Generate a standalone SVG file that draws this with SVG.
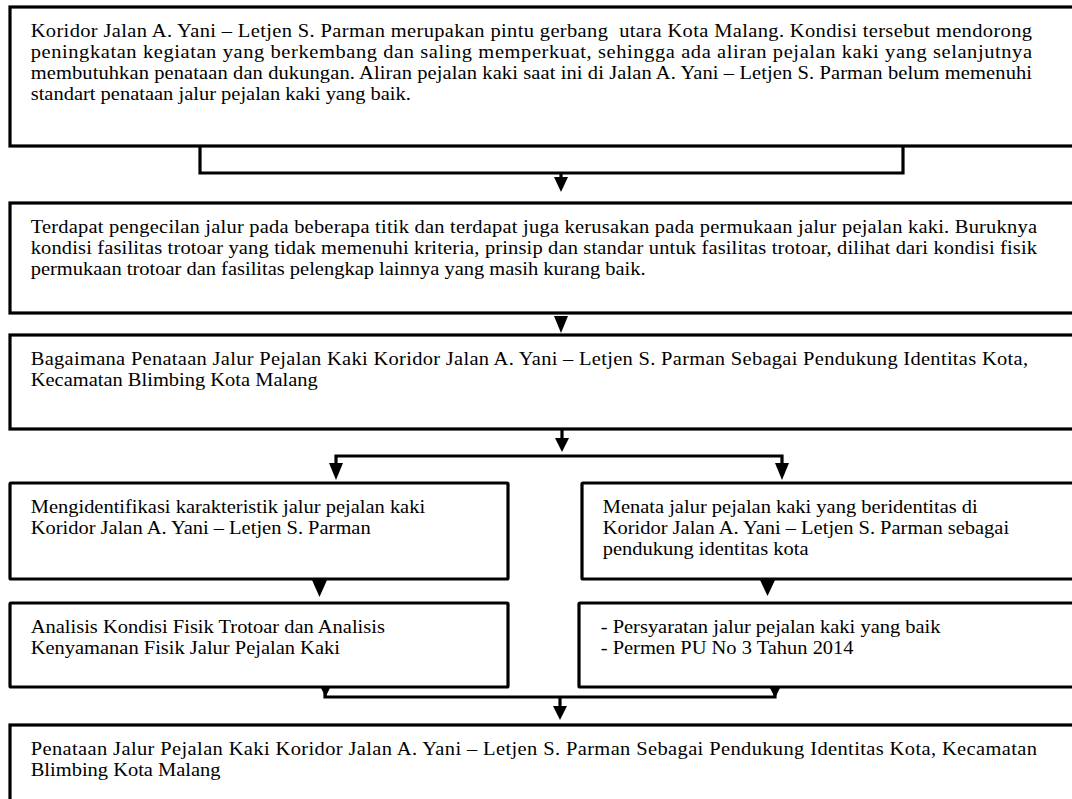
<svg xmlns="http://www.w3.org/2000/svg" width="1072" height="799" viewBox="0 0 1072 799">
<style>
.box{fill:#fff;stroke:#000;stroke-width:3.2}
.t{font-family:"Liberation Serif","Times New Roman",serif;font-size:18px;fill:#000;white-space:pre}
.ln{fill:none;stroke:#000;stroke-width:3.2}
.ah{fill:#000}
</style>
<defs>
<marker id="arr" markerUnits="userSpaceOnUse" markerWidth="16" markerHeight="16" refX="7" refY="14" orient="auto-start-reverse" viewBox="0 0 14 14">
<path d="M0,0 L14,0 L7,14 Z" fill="#000" transform="rotate(0)"/>
</marker>
</defs>
<rect width="1072" height="799" fill="#fff"/>

<g id="connectors">
<path class="ln" d="M200,146 V173 H903 V146"/>
<path class="ln" d="M561,173 V178"/>
<polygon class="ah" points="554,177 568,177 561,192"/>
<polygon class="ah" points="554,316 568,316 561,333"/>
<path class="ln" d="M562,430 V438"/>
<polygon class="ah" points="555,438 569,438 562,452"/>
<path class="ln" d="M336,463 V456 H782 V463"/>
<polygon class="ah" points="329,463 343,463 336,480"/>
<polygon class="ah" points="775,463 789,463 782,480"/>
<polygon class="ah" points="312,580 327,580 319.5,597"/>
<polygon class="ah" points="760,580 775,580 767.5,596"/>
<path class="ln" d="M325,687 V697 H775 V687"/>
<polygon class="ah" points="320,686 331,686 325.5,697"/>
<polygon class="ah" points="769,686 781,686 775,698"/>
<path class="ln" d="M560,697 V708"/>
<polygon class="ah" points="553,706 567,706 560,720"/>
</g>

<g id="node1">
<rect class="box" x="10" y="7" width="1080" height="139"/>
<text class="t" transform="translate(30.7,37) scale(1.138,1)" textLength="879.9" lengthAdjust="spacing">Koridor Jalan A. Yani – Letjen S. Parman merupakan pintu gerbang  utara Kota Malang. Kondisi tersebut mendorong</text>
<text class="t" transform="translate(30.7,58) scale(1.138,1)" textLength="879.9" lengthAdjust="spacing">peningkatan kegiatan yang berkembang dan saling memperkuat, sehingga ada aliran pejalan kaki yang selanjutnya</text>
<text class="t" transform="translate(30.7,79) scale(1.138,1)" textLength="879.9" lengthAdjust="spacing">membutuhkan penataan dan dukungan. Aliran pejalan kaki saat ini di Jalan A. Yani – Letjen S. Parman belum memenuhi</text>
<text class="t" transform="translate(30.7,100) scale(1.138,1)">standart penataan jalur pejalan kaki yang baik.</text>
</g>

<g id="node2">
<rect class="box" x="10" y="203" width="1080" height="110"/>
<text class="t" transform="translate(30.7,233) scale(1.138,1)" textLength="884.3" lengthAdjust="spacing">Terdapat pengecilan jalur pada beberapa titik dan terdapat juga kerusakan pada permukaan jalur pejalan kaki. Buruknya</text>
<text class="t" transform="translate(30.7,254) scale(1.138,1)" textLength="884.3" lengthAdjust="spacing">kondisi fasilitas trotoar yang tidak memenuhi kriteria, prinsip dan standar untuk fasilitas trotoar, dilihat dari kondisi fisik</text>
<text class="t" transform="translate(30.7,275) scale(1.138,1)">permukaan trotoar dan fasilitas pelengkap lainnya yang masih kurang baik.</text>
</g>

<g id="node3">
<rect class="box" x="10" y="335" width="1080" height="94"/>
<text class="t" transform="translate(30.7,365) scale(1.138,1)" textLength="876.4" lengthAdjust="spacing">Bagaimana Penataan Jalur Pejalan Kaki Koridor Jalan A. Yani – Letjen S. Parman Sebagai Pendukung Identitas Kota,</text>
<text class="t" transform="translate(30.7,386) scale(1.138,1)">Kecamatan Blimbing Kota Malang</text>
</g>

<g id="node4">
<rect class="box" x="10" y="483" width="498" height="96" rx="1"/>
<text class="t" transform="translate(30.7,513) scale(1.138,1)">Mengidentifikasi karakteristik jalur pejalan kaki</text>
<text class="t" transform="translate(30.7,534) scale(1.138,1)">Koridor Jalan A. Yani – Letjen S. Parman</text>
</g>

<g id="node5">
<rect class="box" x="582" y="483" width="510" height="96" rx="1"/>
<text class="t" transform="translate(602.7,513) scale(1.138,1)">Menata jalur pejalan kaki yang beridentitas di</text>
<text class="t" transform="translate(602.7,534) scale(1.138,1)">Koridor Jalan A. Yani – Letjen S. Parman sebagai</text>
<text class="t" transform="translate(602.7,555) scale(1.138,1)">pendukung identitas kota</text>
</g>

<g id="node6">
<rect class="box" x="10" y="603" width="498" height="84" rx="1"/>
<text class="t" transform="translate(30.7,633) scale(1.138,1)">Analisis Kondisi Fisik Trotoar dan Analisis</text>
<text class="t" transform="translate(30.7,654) scale(1.138,1)">Kenyamanan Fisik Jalur Pejalan Kaki</text>
</g>

<g id="node7">
<rect class="box" x="579" y="603" width="513" height="84" rx="1"/>
<text class="t" transform="translate(600.7,633) scale(1.138,1)">- Persyaratan jalur pejalan kaki yang baik</text>
<text class="t" transform="translate(600.7,654) scale(1.138,1)">- Permen PU No 3 Tahun 2014</text>
</g>

<g id="node8">
<rect class="box" x="10" y="725" width="1080" height="90"/>
<text class="t" transform="translate(30.7,755) scale(1.138,1)" textLength="884.3" lengthAdjust="spacing">Penataan Jalur Pejalan Kaki Koridor Jalan A. Yani – Letjen S. Parman Sebagai Pendukung Identitas Kota, Kecamatan</text>
<text class="t" transform="translate(30.7,776) scale(1.138,1)">Blimbing Kota Malang</text>
</g>
</svg>
